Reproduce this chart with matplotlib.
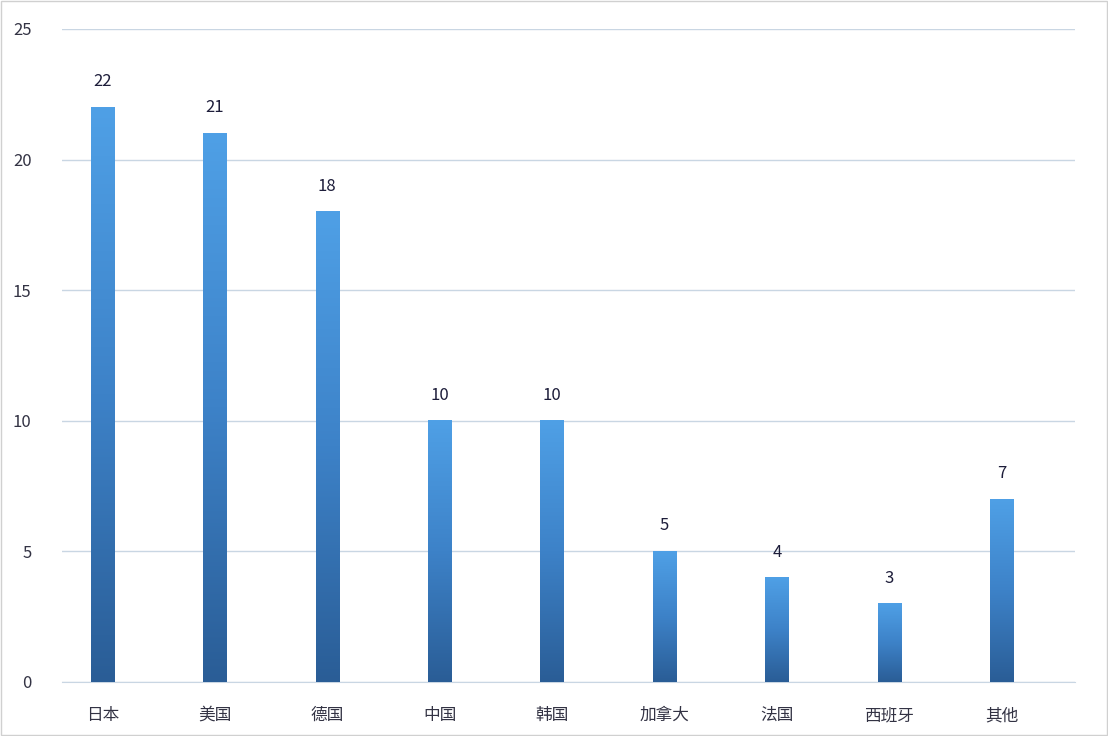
import matplotlib
matplotlib.use("Agg")
import matplotlib.pyplot as plt
import numpy as np
from matplotlib.colors import LinearSegmentedColormap

plt.rcParams["font.family"] = ["Noto Sans CJK SC", "DejaVu Sans"]

categories = ["日本", "美国", "德国", "中国", "韩国", "加拿大", "法国", "西班牙", "其他"]
values = [22, 21, 18, 10, 10, 5, 4, 3, 7]
yticks = [0, 5, 10, 15, 20, 25]

fig = plt.figure(figsize=(11.08, 7.36), dpi=100)
ax = fig.add_axes([0.056, 0.0734, 0.914, 0.8872])
x = np.arange(len(categories))
width = 0.21
bars = ax.bar(x, values, width=width, color="none", zorder=3)
cmap = LinearSegmentedColormap.from_list("g", ["#2a5d96", "#3d82c8", "#4fa0e6"])
grad = np.linspace(0, 1, 256).reshape(-1, 1)
for b, v in zip(bars, values):
    x0 = b.get_x()
    im = ax.imshow(grad, aspect="auto", cmap=cmap, origin="lower",
                   extent=[x0, x0 + width, 0, v], zorder=3)
    ax.text(b.get_x() + width / 2, v + 0.65, str(v), ha="center", va="bottom",
            fontsize=12, color="#1d1d3a")

ax.set_xlim(-0.36, 8.65)
ax.set_ylim(0, 25)
ax.set_yticks(yticks)
ax.set_xticks(x)
ax.set_xticklabels(categories)
ax.grid(axis="y", color="#c9d6e3", linewidth=1)
ax.set_axisbelow(True)
for s in ["top", "right", "left"]:
    ax.spines[s].set_visible(False)
ax.spines["bottom"].set_color("#c9d6e3")
ax.tick_params(axis="both", length=0, labelsize=12, colors="#333344")
ax.tick_params(axis="y", pad=22)
ax.tick_params(axis="x", pad=18)
fig.patches.append(plt.Rectangle((0.001, 0.001), 0.998, 0.998, transform=fig.transFigure,
                                 fill=False, edgecolor="#d0d0d0", linewidth=1))
fig.savefig("out.png", dpi=100)
